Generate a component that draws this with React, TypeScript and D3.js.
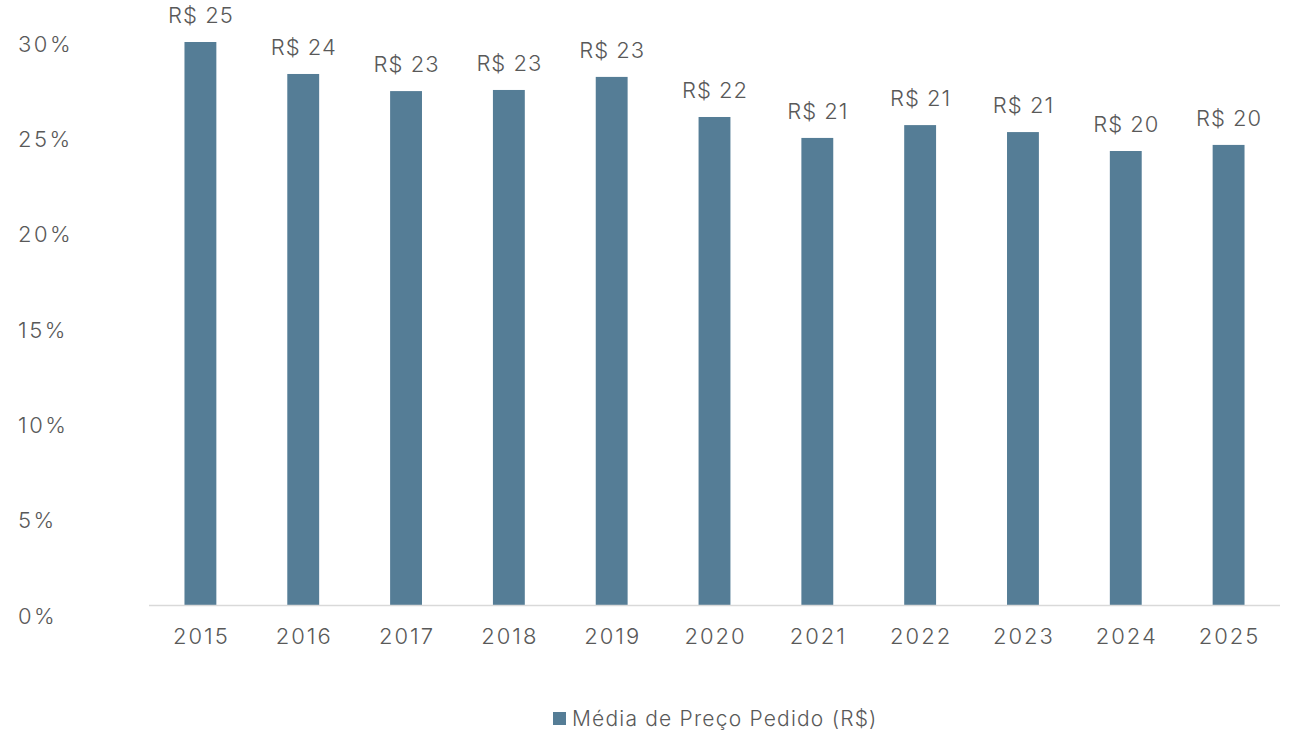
import React from "react";
import * as d3 from "d3";

const years = ["2015", "2016", "2017", "2018", "2019", "2020", "2021", "2022", "2023", "2024", "2025"];
const avgPrice = [25.0, 23.58, 22.82, 22.87, 23.45, 21.67, 20.74, 21.31, 21.0, 20.16, 20.43];
const pctTicks = [0, 0.05, 0.1, 0.15, 0.2, 0.25, 0.3];
const seriesName = "Média de Preço Pedido (R$)";

const W = 1294;
const H = 730;
const FONT = "Inter, 'Open Sans', sans-serif";
const TEXT = "#595959";
const BAR = "#557d96";

export default function App() {
  const baseline = 605;
  const x = d3.scaleBand<string>().domain(years).range([149, 1280]).paddingInner(0.69).paddingOuter(0.345);
  const yPrice = d3.scaleLinear().domain([0, 25]).range([baseline, 42]);
  const yPct = d3.scaleLinear().domain([0, 0.3]).range([616, 44]);
  const fmtPct = d3.format(".0%");

  return (
    <svg
      width={W}
      height={H}
      style={{ position: "absolute", left: 0, top: 0, display: "block", background: "#fff" }}
      fontFamily={FONT}
      fontWeight={300}
    >
      {pctTicks.map((t) => (
        <text key={t} x={18} y={yPct(t)} dy="0.35em" fontSize={22} letterSpacing={2.5} fill={TEXT}>
          {fmtPct(t)}
        </text>
      ))}
      {years.map((yr, i) => (
        <g key={yr}>
          <rect
            x={x(yr)!}
            y={yPrice(avgPrice[i])}
            width={x.bandwidth()}
            height={baseline - yPrice(avgPrice[i])}
            fill={BAR}
          />
          <text
            x={x(yr)! + x.bandwidth() / 2 + 0.5}
            y={yPrice(avgPrice[i]) - 27}
            dy="0.35em"
            textAnchor="middle"
            fontSize={22}
            letterSpacing={1}
            fill={TEXT}
          >
            {`R$ ${d3.format(".0f")(avgPrice[i])}`}
          </text>
          <text
            x={x(yr)! + x.bandwidth() / 2 + 1}
            y={636}
            dy="0.35em"
            textAnchor="middle"
            fontSize={22}
            letterSpacing={2}
            fill={TEXT}
          >
            {yr}
          </text>
        </g>
      ))}
      <line x1={149} x2={1280} y1={baseline + 0.5} y2={baseline + 0.5} stroke="#d9d9d9" strokeWidth={1.5} />
      <rect x={553} y={712} width={13} height={13} fill={BAR} />
      <text x={572} y={719} dy="0.35em" fontSize={21} letterSpacing={1.2} fill={TEXT}>
        {seriesName}
      </text>
    </svg>
  );
}
